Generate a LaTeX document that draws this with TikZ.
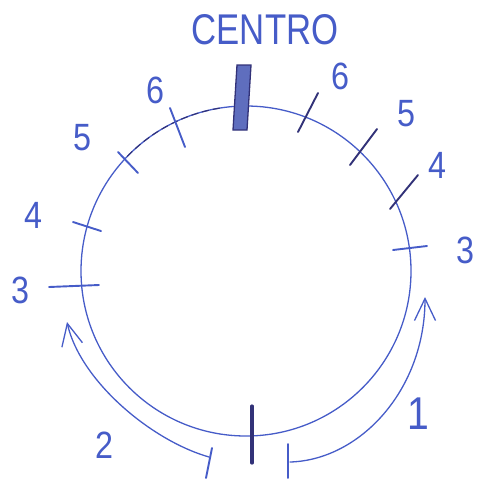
\documentclass[tikz,border=0pt]{standalone}
\usepackage{fontspec}
\setmainfont{Liberation Sans}
\usetikzlibrary{arrows.meta}
\definecolor{penblue}{RGB}{70,92,200}
\definecolor{pendark}{RGB}{50,50,120}
\definecolor{barfill}{RGB}{95,110,190}
\tikzset{
  pen/.style={draw=penblue, line width=1.3pt, line cap=round},
  tick/.style={draw=penblue, line width=1.9pt, line cap=round},
  darktick/.style={draw=pendark, line width=1.9pt, line cap=round},
  num/.style={text=penblue, font=\fontsize{38}{38}\selectfont, inner sep=0pt, xscale=0.85},
  hand/.style={pen, -{Straight Barb[length=22pt,width=21pt,line width=1.3pt]}}
}
\begin{document}
\begin{tikzpicture}[x=1pt,y=-1pt]
\useasboundingbox (0,0) rectangle (486,483);
% circle
\coordinate (O) at (246,271);
\draw[pen] (O) circle[radius=165];
% dark pencil dashes over the arc
\draw[draw=pendark, line width=1.1pt, dash pattern=on 7pt off 4pt] ([shift={(-136:165)}]246,271) arc[start angle=-136, end angle=-99, radius=165];
% centre bar
\filldraw[fill=barfill, draw=pendark, line width=1.3pt] (237,65) -- (251,65) -- (247,130) -- (233,130) -- cycle;
% ticks right
\draw[darktick] (298,132) -- (318,93);
\draw[darktick] (350,165) -- (377,129);
\draw[darktick] (390,209) -- (418,175);
\draw[tick] (393,250) -- (427,246);
% ticks left
\draw[tick] (49,287) -- (99,285);
\draw[tick] (73,222) -- (101,231);
\draw[tick] (118,152) -- (138,173);
\draw[tick] (170,108) -- (185,147);
% bottom marks
\draw[draw=pendark, line width=3.2pt, line cap=round] (252,406) -- (252,463);
\coordinate (sl1) at (212,448);
\coordinate (sl2) at (206,478);
\coordinate (sr1) at (288,444);
\coordinate (sr2) at (288,478);
\draw[tick] (sl1) -- (sl2);
\draw[tick] (sr1) -- (sr2);
% arrows
\coordinate (a2s) at (209,457);
\coordinate (a2e) at (67,322);
\coordinate (a1s) at (290,462);
\coordinate (a1e) at (425,297);
\draw[hand] (a2s) .. controls (150,440) and (80,380) .. (a2e);
\draw[hand] (a1s) .. controls (360,460) and (425,390) .. (a1e);
% labels
\node[num, font=\fontsize{43}{43}\selectfont, xscale=0.95] (centro) at (265,30) {CENTRO};
\node[num] (r6) at (340,76) {6};
\node[num] (r5) at (406,114) {5};
\node[num] (r4) at (437,165) {4};
\node[num] (r3) at (465,250) {3};
\node[num] (l3) at (20,290) {3};
\node[num] (l4) at (33,215) {4};
\node[num] (l5) at (82,138) {5};
\node[num] (l6) at (155,90) {6};
\node[num] (n2) at (104,445) {2};
\node[num, font=\fontsize{46}{46}\selectfont] (n1) at (418,414) {1};
\end{tikzpicture}
\end{document}
